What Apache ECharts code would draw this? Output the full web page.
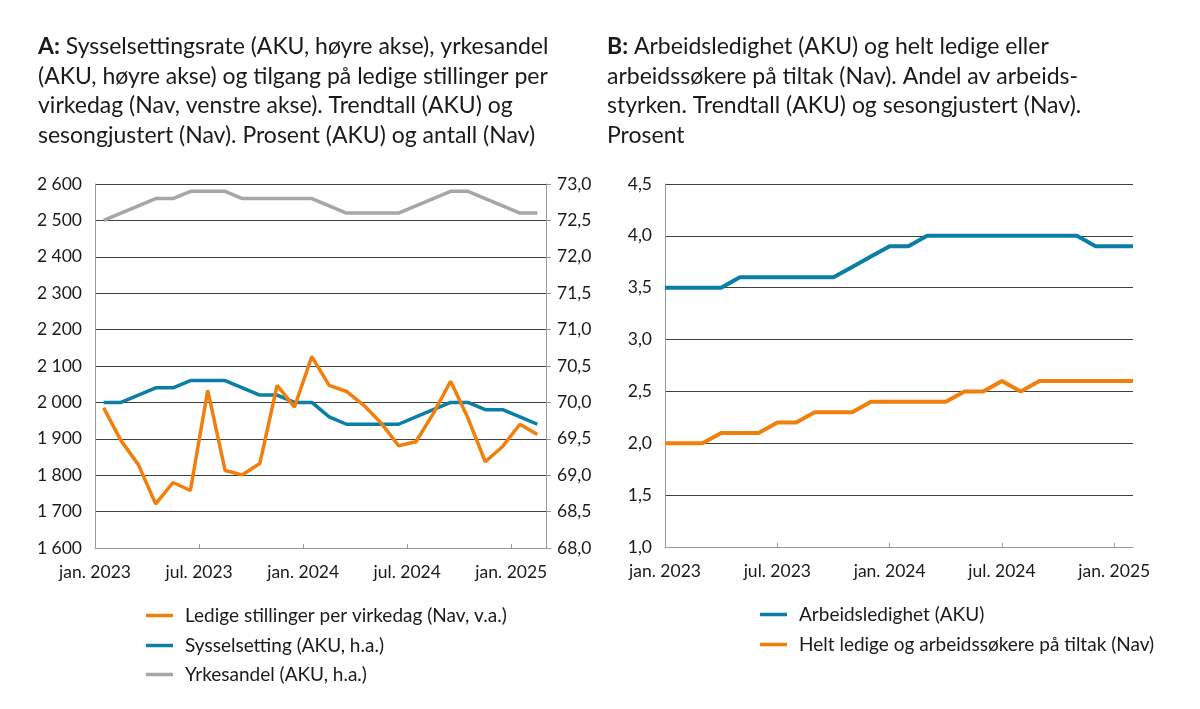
<!DOCTYPE html>
<html>
<head>
<meta charset="utf-8">
<script src="https://cdn.jsdelivr.net/npm/echarts@6/dist/echarts.min.js"></script>
<style>
  html, body { margin: 0; padding: 0; background: #fff; }
  #chart { width: 1200px; height: 709px; }
</style>
</head>
<body>
<div id="chart"></div>
<script>
// months, jan. 2023 - feb. 2025
var months = ['jan. 2023','feb. 2023','mar. 2023','apr. 2023','mai 2023','jun. 2023',
  'jul. 2023','aug. 2023','sep. 2023','okt. 2023','nov. 2023','des. 2023',
  'jan. 2024','feb. 2024','mar. 2024','apr. 2024','mai 2024','jun. 2024',
  'jul. 2024','aug. 2024','sep. 2024','okt. 2024','nov. 2024','des. 2024',
  'jan. 2025','feb. 2025'];
var tickLabels = ['jan. 2023','jul. 2023','jan. 2024','jul. 2024','jan. 2025'];

// panel A
var ledigeStillinger = [1985,1895,1829,1721,1780,1758,2033,1813,1801,1832,2047,1987,2126,
  2047,2030,1992,1943,1881,1892,1969,2058,1957,1837,1879,1940,1912];
var sysselsetting = [70.0,70.0,70.1,70.2,70.2,70.3,70.3,70.3,70.2,70.1,70.1,70.0,70.0,
  69.8,69.7,69.7,69.7,69.7,69.8,69.9,70.0,70.0,69.9,69.9,69.8,69.7];
var yrkesandel = [72.5,72.6,72.7,72.8,72.8,72.9,72.9,72.9,72.8,72.8,72.8,72.8,72.8,
  72.7,72.6,72.6,72.6,72.6,72.7,72.8,72.9,72.9,72.8,72.7,72.6,72.6];

// panel B
var arbeidsledighet = [3.5,3.5,3.5,3.5,3.6,3.6,3.6,3.6,3.6,3.6,3.7,3.8,3.9,
  3.9,4.0,4.0,4.0,4.0,4.0,4.0,4.0,4.0,4.0,3.9,3.9,3.9];
var heltLedige = [2.0,2.0,2.0,2.1,2.1,2.1,2.2,2.2,2.3,2.3,2.3,2.4,2.4,
  2.4,2.4,2.4,2.5,2.5,2.6,2.5,2.6,2.6,2.6,2.6,2.6,2.6];

var ORANGE = '#f07f0c';
var BLUE = '#0a7ea6';
var GREY = '#a6a6a6';
var FONT = 'Lato';
var TXT = '#1a1a1a';

// panel A uses a value x-axis so the points sit mid-month and the ticks on month starts
function midMonth(arr) {
  return arr.map(function (v, i) { return [i + 0.5, v]; });
}
function comma(v) { return v.toFixed(1).replace('.', ','); }
function thousands(v) { return String(v).replace(/\B(?=(\d{3})+(?!\d))/g, ' '); }

var axisLine = { show: true, lineStyle: { color: '#9a9a9a', width: 1 } };
var gridLine = { show: true, lineStyle: { color: '#404040', width: 1 } };
var labelStyle = { color: TXT, fontFamily: FONT, fontSize: 17.5 };

var titleStyle = {
  color: TXT, fontFamily: FONT, fontSize: 23, fontWeight: 'normal', lineHeight: 29.5,
  rich: { b: { fontWeight: 'bold', fontFamily: FONT, fontSize: 23, color: TXT, lineHeight: 29.5 } }
};

var option = {
  animation: false,
  title: [
    {
      left: 38, top: 32, padding: 0,
      text: '{b|A:} Sysselsettingsrate (AKU, høyre akse), yrkesandel\n(AKU, høyre akse) og tilgang på ledige stillinger per\nvirkedag (Nav, venstre akse). Trendtall (AKU) og\nsesongjustert (Nav). Prosent (AKU) og antall (Nav)',
      textStyle: titleStyle
    },
    {
      left: 607, top: 32, padding: 0,
      text: '{b|B:} Arbeidsledighet (AKU) og helt ledige eller\narbeidssøkere på tiltak (Nav). Andel av arbeids-\nstyrken. Trendtall (AKU) og sesongjustert (Nav).\nProsent',
      textStyle: titleStyle
    }
  ],
  legend: [
    { data: ['Ledige stillinger per virkedag (Nav, v.a.)'], left: 146, top: 606 },
    { data: ['Sysselsetting (AKU, h.a.)'], left: 146, top: 636 },
    { data: ['Yrkesandel (AKU, h.a.)'], left: 146, top: 665 },
    { data: ['Arbeidsledighet (AKU)'], left: 760, top: 605 },
    { data: ['Helt ledige og arbeidssøkere på tiltak (Nav)'], left: 760, top: 635 }
  ].map(function (l) {
    l.padding = 0;
    l.icon = 'rect';
    l.itemWidth = 27;
    l.itemHeight = 3.5;
    l.textStyle = { color: TXT, fontFamily: FONT, fontSize: 19, padding: [0, 0, 0, 7] };
    return l;
  }),
  grid: [
    { left: 95, right: 654, top: 184, bottom: 161 },
    { left: 665, right: 67, top: 184, bottom: 162 }
  ],
  xAxis: [
    {
      gridIndex: 0, type: 'value', min: 0, max: 26, interval: 6,
      axisLine: axisLine,
      axisTick: { show: true, inside: true, length: 4, lineStyle: { color: '#9a9a9a' } },
      splitLine: { show: false },
      axisLabel: {
        color: TXT, fontFamily: FONT, fontSize: 17.5, margin: 15,
        formatter: function (v) { return (v % 6 === 0 && v / 6 < tickLabels.length) ? tickLabels[v / 6] : ''; }
      }
    },
    {
      gridIndex: 1, type: 'category', data: months, boundaryGap: false,
      axisLine: axisLine,
      axisTick: { show: true, inside: true, length: 4, interval: function (i) { return i % 6 === 0; }, lineStyle: { color: '#9a9a9a' } },
      axisLabel: {
        color: TXT, fontFamily: FONT, fontSize: 17.5, margin: 15,
        interval: function (i) { return i % 6 === 0; }
      }
    }
  ],
  yAxis: [
    {
      gridIndex: 0, type: 'value', min: 1600, max: 2600, interval: 100,
      axisLine: axisLine, axisTick: { show: false }, splitLine: gridLine,
      axisLabel: Object.assign({ margin: 13, formatter: thousands }, labelStyle)
    },
    {
      gridIndex: 0, type: 'value', position: 'right', min: 68, max: 73, interval: 0.5,
      axisLine: axisLine,
      axisTick: { show: true, length: 5, lineStyle: { color: '#9a9a9a' } },
      splitLine: { show: false },
      axisLabel: Object.assign({ margin: 11, formatter: comma }, labelStyle)
    },
    {
      gridIndex: 1, type: 'value', min: 1, max: 4.5, interval: 0.5,
      axisLine: axisLine, axisTick: { show: false }, splitLine: gridLine,
      axisLabel: Object.assign({ margin: 13, formatter: comma }, labelStyle)
    }
  ],
  series: [
    {
      name: 'Ledige stillinger per virkedag (Nav, v.a.)', type: 'line',
      xAxisIndex: 0, yAxisIndex: 0, data: midMonth(ledigeStillinger),
      symbol: 'none', lineStyle: { color: ORANGE, width: 3.5 }, itemStyle: { color: ORANGE }, z: 4
    },
    {
      name: 'Sysselsetting (AKU, h.a.)', type: 'line',
      xAxisIndex: 0, yAxisIndex: 1, data: midMonth(sysselsetting),
      symbol: 'none', lineStyle: { color: BLUE, width: 3.5 }, itemStyle: { color: BLUE }, z: 3
    },
    {
      name: 'Yrkesandel (AKU, h.a.)', type: 'line',
      xAxisIndex: 0, yAxisIndex: 1, data: midMonth(yrkesandel),
      symbol: 'none', lineStyle: { color: GREY, width: 3.5 }, itemStyle: { color: GREY }, z: 3
    },
    {
      name: 'Arbeidsledighet (AKU)', type: 'line',
      xAxisIndex: 1, yAxisIndex: 2, data: arbeidsledighet,
      symbol: 'none', lineStyle: { color: BLUE, width: 4 }, itemStyle: { color: BLUE }
    },
    {
      name: 'Helt ledige og arbeidssøkere på tiltak (Nav)', type: 'line',
      xAxisIndex: 1, yAxisIndex: 2, data: heltLedige,
      symbol: 'none', lineStyle: { color: ORANGE, width: 4 }, itemStyle: { color: ORANGE }
    }
  ]
};

var myChart = echarts.init(document.getElementById('chart'));
myChart.setOption(option);
</script>
</body>
</html>
